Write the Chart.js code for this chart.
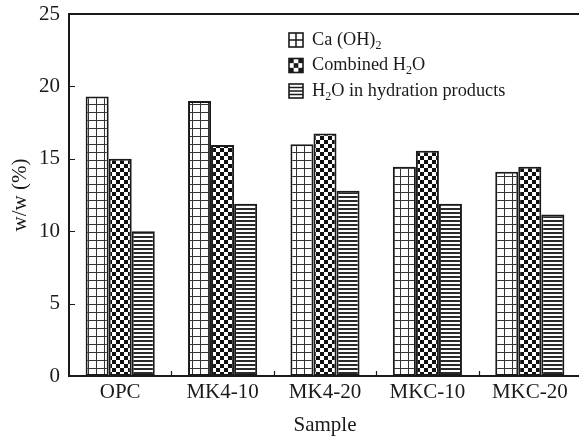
<!DOCTYPE html>
<html>
<head>
<meta charset="utf-8">
<script src="https://cdn.jsdelivr.net/npm/chart.js@4.4.1/dist/chart.umd.min.js"></script>
<style>
  html, body { margin: 0; padding: 0; background: #fff; overflow: hidden; width: 579px; height: 439px; }
  canvas { display: block; }
</style>
</head>
<body>
<canvas id="chart" width="600" height="439"></canvas>
<script>
// values
const samples = ['OPC', 'MK4-10', 'MK4-20', 'MKC-10', 'MKC-20'];
const caOH2 = [19.3, 19.0, 16.0, 14.45, 14.1];
const combinedH2O = [15.0, 15.95, 16.75, 15.55, 14.45];
const hydrationH2O = [10.0, 11.9, 12.8, 11.9, 11.15];
// "_x" marks a subscript character
const seriesLabels = ['Ca (OH)_2', 'Combined H_2O', 'H_2O in hydration products'];
const yTicks = [0, 5, 10, 15, 20, 25];

const ink = '#1a1a1a';
const serif = "'Liberation Serif', 'Times New Roman', serif";

const canvas = document.getElementById('chart');
const ctx = canvas.getContext('2d');

function makePattern(kind) {
    const c = document.createElement('canvas');
    const p = c.getContext('2d');
    if (kind === 'grid') {
        c.width = 8; c.height = 8;
        p.fillStyle = '#fff'; p.fillRect(0, 0, 8, 8);
        p.fillStyle = '#333';
        p.fillRect(0, 0, 8, 1);
        p.fillRect(0, 0, 1, 8);
    } else if (kind === 'check') {
        c.width = 8; c.height = 8;
        p.fillStyle = '#fff'; p.fillRect(0, 0, 8, 8);
        p.fillStyle = '#111';
        p.fillRect(0, 0, 4, 4);
        p.fillRect(4, 4, 4, 4);
    } else {
        c.width = 4; c.height = 4;
        p.fillStyle = '#fff'; p.fillRect(0, 0, 4, 4);
        p.fillStyle = '#2a2a2a';
        p.fillRect(0, 0, 4, 2);
    }
    return ctx.createPattern(c, 'repeat');
}

const fills = [makePattern('grid'), makePattern('check'), makePattern('lines')];
const seriesData = [caOH2, combinedH2O, hydrationH2O];

// label text with simple subscripts
function drawRichText(g, text, x, y, size) {
    let cx = x;
    for (let i = 0; i < text.length; i++) {
        if (text[i] === '_' && i + 1 < text.length) {
            g.font = Math.round(size * 0.68) + 'px ' + serif;
            g.fillText(text[i + 1], cx, y + size * 0.3);
            cx += g.measureText(text[i + 1]).width;
            i++;
        } else {
            g.font = size + 'px ' + serif;
            g.fillText(text[i], cx, y);
            cx += g.measureText(text[i]).width;
        }
    }
}

function drawIcon(g, k, x, y, s) {
    g.save();
    g.fillStyle = '#fff';
    g.fillRect(x, y, s, s);
    g.fillStyle = ink;
    if (k === 0) {
        g.fillRect(x + s / 2 - 0.75, y, 1.5, s);
        g.fillRect(x, y + s / 2 - 0.75, s, 1.5);
    } else if (k === 1) {
        const c = s / 3;
        for (let r = 0; r < 3; r++) {
            for (let q = 0; q < 3; q++) {
                if ((r + q) % 2 === 0) g.fillRect(x + q * c, y + r * c, c, c);
            }
        }
    } else {
        for (let j = 1; j < 4; j++) g.fillRect(x, y + j * s / 4 - 0.75, s, 1.5);
    }
    g.strokeStyle = ink;
    g.lineWidth = 1.6;
    g.strokeRect(x, y, s, s);
    g.restore();
}

const framePlugin = {
    id: 'frame',
    afterDraw(chart) {
        const g = chart.ctx;
        const { left, right, top, bottom } = chart.chartArea;
        const xs = chart.scales.x, ys = chart.scales.y;
        g.save();
        g.strokeStyle = ink;
        g.lineWidth = 2;
        g.beginPath();
        g.moveTo(left, top); g.lineTo(right, top);
        g.moveTo(left, top - 1); g.lineTo(left, bottom + 1);
        g.moveTo(left - 1, bottom); g.lineTo(right, bottom);
        g.stroke();
        g.lineWidth = 1.2;
        g.beginPath();
        yTicks.forEach(v => {
            const py = Math.round(ys.getPixelForValue(v)) + 0.5;
            g.moveTo(left, py); g.lineTo(left + 6, py);
        });
        for (let i = 1; i < samples.length; i++) {
            const px = Math.round((xs.getPixelForValue(i - 1) + xs.getPixelForValue(i)) / 2) + 0.5;
            g.moveTo(px, bottom); g.lineTo(px, bottom - 5);
        }
        g.stroke();

        // legend
        g.fillStyle = ink;
        g.textBaseline = 'middle';
        g.textAlign = 'left';
        seriesLabels.forEach((lab, k) => {
            const cy = 40 + k * 25.5;
            drawIcon(g, k, 289, cy - 7, 14);
            g.fillStyle = ink;
            drawRichText(g, lab, 312, cy, 18.3);
        });
        g.restore();
    }
};

new Chart(ctx, {
    type: 'bar',
    data: {
        labels: samples,
        datasets: seriesData.map((d, k) => ({
            label: seriesLabels[k],
            data: d,
            backgroundColor: fills[k],
            borderColor: ink,
            borderWidth: 2,
            borderSkipped: false,
            categoryPercentage: 0.675,
            barPercentage: 1.0
        }))
    },
    options: {
        responsive: false,
        animation: false,
        devicePixelRatio: 1,
        layout: { padding: { left: 0, right: 19, top: 14, bottom: 0 } },
        plugins: { legend: { display: false }, tooltip: { enabled: false } },
        scales: {
            x: {
                grid: { display: false, drawTicks: false },
                border: { display: false },
                ticks: { color: ink, padding: 4, font: { family: serif, size: 21 } },
                title: { display: true, text: 'Sample', color: ink, padding: { top: 0, bottom: 1 }, font: { family: serif, size: 21 } },
                afterFit: s => { s.height = 63; s.paddingLeft = 0; s.paddingRight = 0; }
            },
            y: {
                min: 0,
                max: 25,
                grid: { display: false, drawTicks: false },
                border: { display: false },
                afterBuildTicks: s => { s.ticks = yTicks.map(v => ({ value: v })); },
                ticks: { color: ink, padding: 9, font: { family: serif, size: 21 } },
                title: { display: true, text: 'w/w (%)', color: ink, padding: { top: 8, bottom: 0 }, font: { family: serif, size: 21 } },
                afterFit: s => { s.width = 69; s.paddingTop = 0; s.paddingBottom = 0; }
            }
        }
    },
    plugins: [framePlugin]
});
</script>
</body>
</html>
